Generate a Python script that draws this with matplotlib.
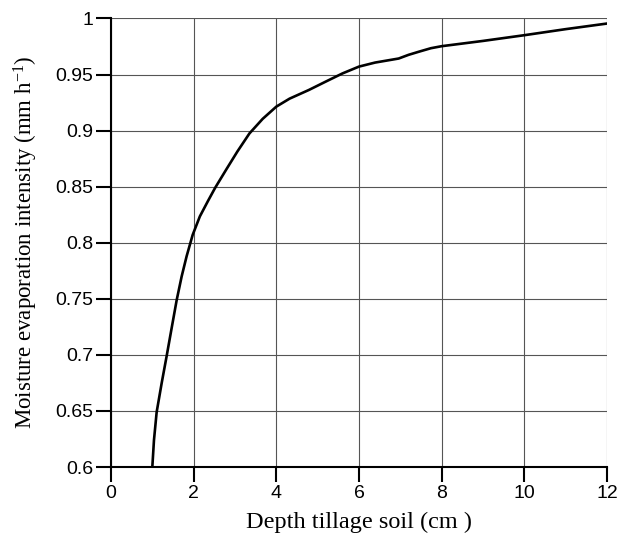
import matplotlib
matplotlib.use("Agg")
import matplotlib.pyplot as plt

depth = [1.0, 1.04, 1.105, 1.227, 1.347, 1.468, 1.59, 1.71, 1.83, 1.976, 2.15, 2.35, 2.52,
         2.8, 3.06, 3.35, 3.67, 4.0, 4.32, 4.79, 5.2, 5.6, 6.0, 6.39, 6.96,
         7.2, 7.46, 7.74, 8.0, 9.0, 10.0, 11.0, 12.0]
intensity = [0.6, 0.624, 0.649, 0.675, 0.699, 0.724, 0.749, 0.770, 0.788, 0.807, 0.8235, 0.8375, 0.849,
             0.866, 0.8815, 0.8975, 0.9105, 0.9214, 0.9285, 0.9363, 0.9438, 0.951, 0.9571,
             0.9607, 0.9643, 0.9676, 0.9705, 0.9735, 0.9753, 0.980, 0.9851, 0.9905, 0.9955]
xticks = [0, 2, 4, 6, 8, 10, 12]
yticks = [0.6, 0.65, 0.7, 0.75, 0.8, 0.85, 0.9, 0.95, 1.0]
ytick_labels = ["0.6", "0.65", "0.7", "0.75", "0.8", "0.85", "0.9", "0.95", "1"]

plt.rcParams['mathtext.fontset'] = 'custom'
plt.rcParams['mathtext.rm'] = 'Liberation Serif'
plt.rcParams['mathtext.it'] = 'Liberation Serif:italic'

fig = plt.figure(figsize=(6.19, 5.33), dpi=100)
ax = fig.add_axes([0.1793, 0.1238, 0.8013, 0.8415])

ax.plot(depth, intensity, color='black', lw=1.9, zorder=3, solid_joinstyle='round')
ax.set_xlim(0, 12)
ax.set_ylim(0.6, 1.0)
ax.set_xticks(xticks)
ax.set_xticklabels([str(t) for t in xticks], fontfamily='Liberation Sans', fontsize=14)
ax.set_yticks(yticks)
ax.set_yticklabels(ytick_labels, fontfamily='Liberation Sans', fontsize=14)
ax.grid(True, color='#555555', lw=0.8, zorder=1)
ax.set_axisbelow(True)
for s in ['top', 'right']:
    ax.spines[s].set_visible(False)
for s in ['left', 'bottom']:
    ax.spines[s].set_linewidth(1.5)
    ax.spines[s].set_zorder(4)
ax.tick_params(axis='both', direction='out', length=11, width=1.5, pad=2)

ax.set_xlabel('Depth tillage soil (cm )', fontfamily='Liberation Serif', fontsize=17.5, labelpad=7)
ax.set_ylabel('Moisture evaporation intensity (mm h$^{\\mathrm{-1}}$)', fontfamily='Liberation Serif', fontsize=16.5, labelpad=11)

fig.savefig('out.png', dpi=100)
